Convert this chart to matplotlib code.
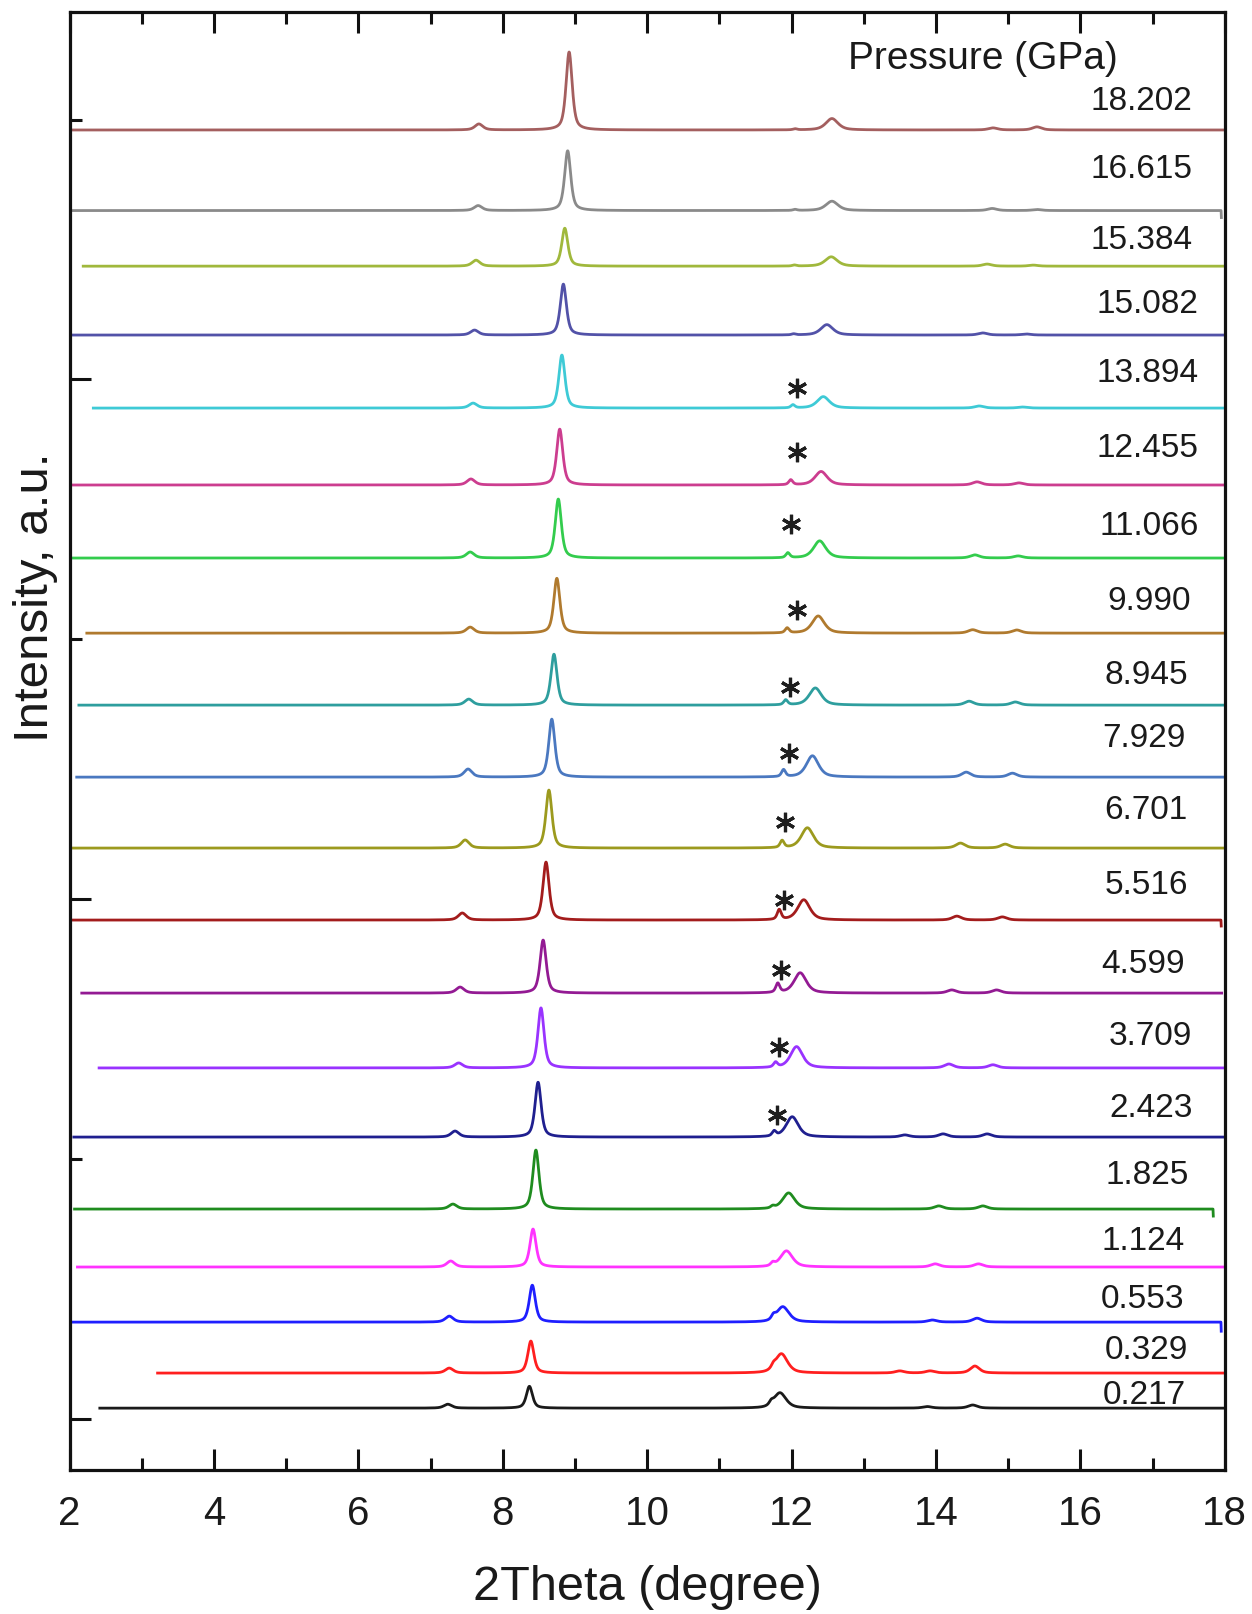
import numpy as np
import matplotlib
matplotlib.use("Agg")
import matplotlib.pyplot as plt
from matplotlib.ticker import MultipleLocator, FixedLocator

plt.rcParams['font.family'] = ['Liberation Sans', 'DejaVu Sans']

# ---------------- data ----------------
pressures = ['18.202', '16.615', '15.384', '15.082', '13.894', '12.455', '11.066',
             '9.990', '8.945', '7.929', '6.701', '5.516', '4.599', '3.709',
             '2.423', '1.825', '1.124', '0.553', '0.329', '0.217']

colors = ['#a45f5f', '#8a8a8a', '#a0b83c', '#5252a8', '#3ecad6', '#cc3d8f', '#33cc4d',
          '#b07a2e', '#2e9e9e', '#4a78c0', '#9c9a1e', '#a31c1c', '#931a93', '#9933ff',
          '#1f1f8f', '#1f8c1f', '#ff33ff', '#1f1fff', '#ff1f1f', '#1a1a1a']

# vertical offset (baseline) of every pattern, a.u.
offsets = [4960, 4650, 4436, 4171, 3890, 3594, 3313, 3024, 2747, 2470,
           2197, 1920, 1639, 1351, 1085, 808, 585, 373, 177, 42]

# measured 2theta range of every pattern
x_start = [2.00, 2.03, 2.19, 2.02, 2.33, 2.02, 2.00, 2.24, 2.13, 2.10,
           2.00, 2.00, 2.17, 2.41, 2.06, 2.07, 2.11, 2.00, 3.22, 2.42]
x_end = [18.0, 17.95, 18.0, 18.0, 18.0, 18.0, 18.0, 18.0, 18.0, 18.0,
         18.0, 17.95, 17.96, 18.0, 18.0, 17.84, 18.0, 17.95, 18.0, 18.0]
end_drop = [0, 27, 0, 0, 0, 0, 0, 0, 0, 0, 0, 23, 0, 0, 0, 27, 0, 35, 0, 0]

# strongest reflection
main_pos = [8.92, 8.90, 8.86, 8.84, 8.82, 8.79, 8.77, 8.75, 8.71, 8.68,
            8.64, 8.60, 8.56, 8.53, 8.49, 8.46, 8.42, 8.41, 8.39, 8.37]
main_h = [300, 230, 146, 196, 204, 215, 227, 211, 196, 223,
          223, 223, 204, 231, 211, 227, 146, 142, 123, 84]

# weak reflection near 7.5 deg
low_pos = [7.67, 7.66, 7.63, 7.61, 7.59, 7.56, 7.55, 7.55, 7.53, 7.52,
           7.48, 7.44, 7.41, 7.39, 7.34, 7.31, 7.28, 7.26, 7.26, 7.24]
low_h = [23, 19, 23, 19, 19, 23, 23, 23, 23, 31, 31, 27, 23, 19, 23, 19, 23, 23, 19, 15]

# reflection near 12 deg
second_pos = [12.56, 12.56, 12.55, 12.49, 12.44, 12.41, 12.39, 12.37, 12.33, 12.29,
              12.22, 12.17, 12.12, 12.07, 12.01, 11.96, 11.93, 11.88, 11.86, 11.84]
second_h = [44, 36, 36, 40, 44, 52, 66, 66, 66, 82, 78, 78, 78, 82, 78, 62, 62, 59, 74, 59]

# impurity peak (marked with *)
imp_pos = [12.05, 12.05, 12.04, 12.03, 12.02, 11.99, 11.95, 11.94, 11.92, 11.89,
           11.87, 11.83, 11.81, 11.78, 11.76, 11.74, 11.74, 11.75, 11.75, 11.72]
imp_h = [4, 4, 4, 4, 12, 19, 19, 19, 19, 27, 27, 38, 35, 19, 19, 8, 12, 15, 12, 12]

# weak high-angle reflections (position, height)
minor_peaks = [
    [(14.79, 8), (15.40, 12)],
    [(14.78, 8), (15.40, 4)],
    [(14.71, 8), (15.35, 4)],
    [(14.65, 8), (15.25, 4)],
    [(14.60, 8), (15.20, 4)],
    [(14.57, 12), (15.15, 8)],
    [(14.54, 12), (15.14, 8)],
    [(14.51, 13), (15.12, 12)],
    [(14.46, 15), (15.10, 12)],
    [(14.42, 19), (15.06, 15)],
    [(14.34, 19), (14.96, 15)],
    [(14.29, 15), (14.92, 12)],
    [(14.22, 12), (14.84, 12)],
    [(14.18, 15), (14.79, 12)],
    [(13.57, 8), (14.10, 12), (14.71, 12)],
    [(14.04, 12), (14.65, 12)],
    [(13.99, 12), (14.59, 12)],
    [(13.95, 8), (14.57, 15)],
    [(13.50, 8), (13.92, 8), (14.54, 27)],
    [(13.88, 6), (14.51, 12)],
]

# pressure labels: right edge (2theta) and height of text baseline above pattern
label_x = [17.55, 17.55, 17.56, 17.64, 17.64, 17.64, 17.64, 17.53, 17.49, 17.46,
           17.48, 17.50, 17.45, 17.55, 17.56, 17.50, 17.44, 17.44, 17.50, 17.46]
label_dy = [75, 125, 67, 83, 102, 106, 90, 90, 83, 117,
            110, 102, 79, 90, 79, 98, 67, 56, 56, 17]

# asterisks (patterns 13.894 ... 2.423)
ast_series = [4, 5, 6, 7, 8, 9, 10, 11, 12, 13, 14]
ast_x = [12.08, 12.08, 11.99, 12.07, 11.98, 11.97, 11.91, 11.90, 11.85, 11.82, 11.80]
ast_dy = [77, 127, 131, 88, 69, 92, 100, 77, 88, 81, 85]

x_ticks = [2, 4, 6, 8, 10, 12, 14, 16, 18]

# ---------------- figure ----------------
W, H = 1252, 1614
fig = plt.figure(figsize=(W / 100, H / 100), dpi=100)
ax = fig.add_axes([69.5 / W, 1 - 1470 / H, (1224.7 - 69.5) / W, (1470 - 12) / H])

FW_MAIN, FW_LOW, FW_SEC, FW_IMP, FW_MIN = 0.10, 0.13, 0.20, 0.065, 0.15


def profile(x, c, fw, eta=0.6):
    g = np.exp(-4 * np.log(2) * ((x - c) / fw) ** 2)
    lor = 1.0 / (1.0 + 4 * ((x - c) / fw) ** 2)
    return eta * lor + (1 - eta) * g


for i in range(len(pressures)):
    x = np.arange(x_start[i], x_end[i] + 1e-9, 0.004)
    y = np.full_like(x, float(offsets[i]))
    y += main_h[i] * profile(x, main_pos[i], FW_MAIN)
    y += low_h[i] * profile(x, low_pos[i], FW_LOW)
    y += second_h[i] * profile(x, second_pos[i], FW_SEC)
    y += imp_h[i] * profile(x, imp_pos[i], FW_IMP)
    for (p, h) in minor_peaks[i]:
        y += h * profile(x, p, FW_MIN)
    if end_drop[i]:
        x = np.append(x, x[-1] + 0.004)
        y = np.append(y, y[-1] - end_drop[i])
    ax.plot(x, y, color=colors[i], lw=2.0, solid_joinstyle='round')
    ax.text(label_x[i], offsets[i] + label_dy[i], pressures[i], ha='right',
            va='baseline', fontsize=24, color='#1a1a1a')

for k, s in enumerate(ast_series):
    ax.plot([ast_x[k]], [offsets[s] + ast_dy[k]], marker=(6, 2, 0), ms=14,
            mew=2.3, color='#1e1e1e', ls='none')

ax.text(16.52, 5194, 'Pressure (GPa)', ha='right', va='baseline', fontsize=28,
        color='#1a1a1a')

ax.set_xlim(2, 18)
ax.set_ylim(-196, 5414)
ax.xaxis.set_major_locator(FixedLocator(x_ticks))
ax.xaxis.set_minor_locator(MultipleLocator(1))
ax.yaxis.set_major_locator(FixedLocator([0, 2000, 4000]))
ax.yaxis.set_minor_locator(FixedLocator([1000, 3000, 5000]))
ax.tick_params(which='both', direction='in', top=True, right=False, width=2.2,
               color='#111111')
ax.tick_params(which='major', length=15)
ax.tick_params(which='minor', length=8.5)
ax.tick_params(axis='x', labelsize=29, pad=18, labelcolor='#1a1a1a')
ax.tick_params(axis='y', labelleft=False)
for sp in ax.spines.values():
    sp.set_linewidth(2.3)
    sp.set_color('#111111')

ax.set_xlabel('2Theta (degree)', fontsize=35, color='#1a1a1a')
ax.xaxis.label.set_va('center')
ax.xaxis.set_label_coords(0.5, (1470 - 1588) / 1458)
fig.text(36 / W, 1 - 597 / H, 'Intensity, a.u.', rotation=90, ha='center',
         va='center', fontsize=35.5, color='#1a1a1a')

fig.savefig('out.png', dpi=100)
